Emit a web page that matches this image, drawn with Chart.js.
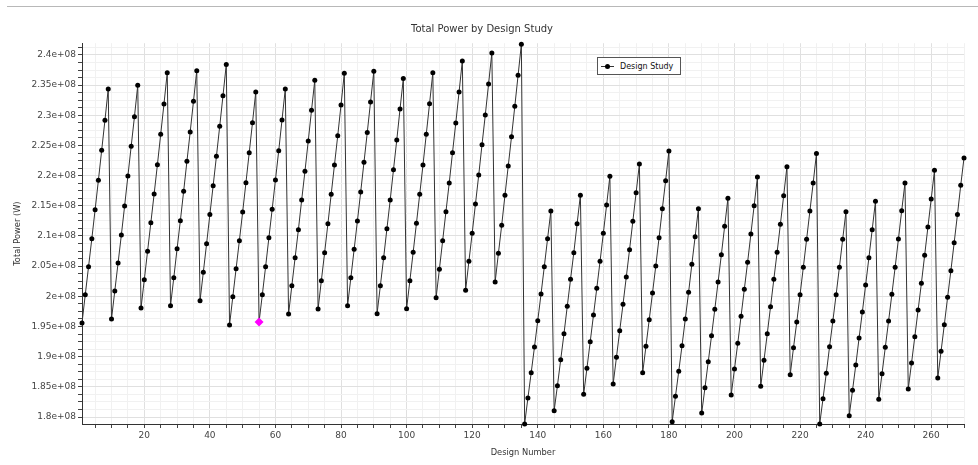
<!DOCTYPE html>
<html>
<head>
<meta charset="utf-8">
<title>Total Power by Design Study</title>
<script src="https://cdn.jsdelivr.net/npm/chart.js@4/dist/chart.umd.min.js"></script>
<style>
  body { margin: 0; background: #fff; }
  #wrap { position: relative; width: 978px; height: 465px; }
  #topline { position: absolute; left: 7px; right: 0; top: 6px; border-top: 1px solid #b8b8b8; }
  #legend {
    position: absolute; left: 597px; top: 57px; width: 82px; height: 16px;
    border: 1px solid #555; background: #fff; display: flex; align-items: center;
    font: 8px "DejaVu Sans", sans-serif; color: #111;
  }
  #legend svg { margin: 0 6px 0 3px; }
</style>
</head>
<body>
<div id="wrap">
  <canvas id="chart-power" width="978" height="465"></canvas>
  <div id="topline"></div>
  <div id="legend">
    <svg width="13" height="7"><line x1="0" y1="3.5" x2="13" y2="3.5" stroke="#333" stroke-width="1"/><circle cx="6.5" cy="3.5" r="2.5" fill="#000"/></svg>
    <span>Design Study</span>
  </div>
</div>
<script>
// values, 9 designs per row
const totalPower = [
  1.9558e8, 2.0028e8, 2.0492e8, 2.0956e8, 2.1436e8, 2.1923e8, 2.2420e8, 2.2917e8, 2.3436e8,
  1.9624e8, 2.0088e8, 2.0552e8, 2.1016e8, 2.1497e8, 2.1994e8, 2.2486e8, 2.2978e8, 2.3497e8,
  1.9807e8, 2.0276e8, 2.0746e8, 2.1221e8, 2.1696e8, 2.2182e8, 2.2685e8, 2.3188e8, 2.3707e8,
  1.9845e8, 2.0309e8, 2.0790e8, 2.1254e8, 2.1740e8, 2.2238e8, 2.2724e8, 2.3232e8, 2.3740e8,
  1.9928e8, 2.0398e8, 2.0873e8, 2.1354e8, 2.1834e8, 2.2320e8, 2.2818e8, 2.3326e8, 2.3840e8,
  1.9525e8, 1.9994e8, 2.0458e8, 2.0923e8, 2.1398e8, 2.1884e8, 2.2381e8, 2.2878e8, 2.3387e8,
  1.9574e8, 2.0028e8, 2.0492e8, 2.0972e8, 2.1442e8, 2.1928e8, 2.2414e8, 2.2923e8, 2.3436e8,
  1.9707e8, 2.0177e8, 2.0641e8, 2.1105e8, 2.1597e8, 2.2072e8, 2.2575e8, 2.3083e8, 2.3580e8,
  1.9790e8, 2.0260e8, 2.0724e8, 2.1204e8, 2.1691e8, 2.2177e8, 2.2663e8, 2.3171e8, 2.3696e8,
  1.9845e8, 2.0309e8, 2.0779e8, 2.1249e8, 2.1729e8, 2.2221e8, 2.2713e8, 2.3221e8, 2.3729e8,
  1.9713e8, 2.0177e8, 2.0641e8, 2.1121e8, 2.1597e8, 2.2099e8, 2.2591e8, 2.3105e8, 2.3608e8,
  1.9795e8, 2.0260e8, 2.0729e8, 2.1210e8, 2.1691e8, 2.2177e8, 2.2685e8, 2.3193e8, 2.3707e8,
  1.9978e8, 2.0447e8, 2.0923e8, 2.1403e8, 2.1878e8, 2.2381e8, 2.2873e8, 2.3387e8, 2.3901e8,
  2.0099e8, 2.0580e8, 2.1044e8, 2.1530e8, 2.2011e8, 2.2514e8, 2.3005e8, 2.3519e8, 2.4033e8,
  2.0237e8, 2.0713e8, 2.1177e8, 2.1674e8, 2.2160e8, 2.2646e8, 2.3149e8, 2.3663e8, 2.4177e8,
  1.7884e8, 1.8315e8, 1.8735e8, 1.9160e8, 1.9597e8, 2.0039e8, 2.0492e8, 2.0956e8, 2.1414e8,
  1.8105e8, 1.8519e8, 1.8950e8, 1.9381e8, 1.9834e8, 2.0282e8, 2.0724e8, 2.1204e8, 2.1674e8,
  1.8376e8, 1.8806e8, 1.9248e8, 1.9690e8, 2.0132e8, 2.0580e8, 2.1044e8, 2.1514e8, 2.1989e8,
  1.8547e8, 1.8989e8, 1.9431e8, 1.9867e8, 2.0320e8, 2.0773e8, 2.1243e8, 2.1718e8, 2.2193e8,
  1.8735e8, 1.9171e8, 1.9613e8, 2.0055e8, 2.0503e8, 2.0972e8, 2.1453e8, 2.1917e8, 2.2409e8,
  1.7922e8, 1.8342e8, 1.8757e8, 1.9182e8, 1.9624e8, 2.0066e8, 2.0530e8, 2.0989e8, 2.1453e8,
  1.8066e8, 1.8486e8, 1.8917e8, 1.9348e8, 1.9784e8, 2.0237e8, 2.0691e8, 2.1160e8, 2.1624e8,
  1.8364e8, 1.8795e8, 1.9221e8, 1.9668e8, 2.0116e8, 2.0563e8, 2.1033e8, 2.1503e8, 2.1978e8,
  1.8508e8, 1.8939e8, 1.9381e8, 1.9829e8, 2.0282e8, 2.0729e8, 2.1193e8, 2.1668e8, 2.2149e8,
  1.8702e8, 1.9149e8, 1.9574e8, 2.0028e8, 2.0481e8, 2.0945e8, 2.1414e8, 2.1878e8, 2.2365e8,
  1.7884e8, 1.8304e8, 1.8724e8, 1.9166e8, 1.9591e8, 2.0028e8, 2.0481e8, 2.0945e8, 2.1403e8,
  1.8022e8, 1.8442e8, 1.8862e8, 1.9309e8, 1.9740e8, 2.0188e8, 2.0641e8, 2.1105e8, 2.1575e8,
  1.8293e8, 1.8718e8, 1.9155e8, 1.9591e8, 2.0033e8, 2.0481e8, 2.0950e8, 2.1420e8, 2.1878e8,
  1.8464e8, 1.8895e8, 1.9331e8, 1.9773e8, 2.0215e8, 2.0679e8, 2.1149e8, 2.1613e8, 2.2088e8,
  1.8646e8, 1.9088e8, 1.9530e8, 1.9983e8, 2.0425e8, 2.0889e8, 2.1354e8, 2.1840e8, 2.2293e8
];

// design numbers 1..270
const designNumbers = totalPower.map((v, i) => i + 1);

// the one design shown as a magenta diamond
const highlightDesign = 55;

// labelled ticks
const xTickLabels = [20, 40, 60, 80, 100, 120, 140, 160, 180, 200, 220, 240, 260];
const yTickLabels = [1.8e8, 1.85e8, 1.9e8, 1.95e8, 2e8, 2.05e8, 2.1e8, 2.15e8, 2.2e8,
                     2.25e8, 2.3e8, 2.35e8, 2.4e8];

const xRange = [1, 270];
const yRange = [1.7884e8, 2.4195e8];
const xMinorStep = 5;
const yMinorStep = 1.25e6;

const font = "'DejaVu Sans', sans-serif";

// minor grid positions (multiples of the step inside the range)
const gridValues = (lo, hi, step) => {
  const out = [];
  for (let k = Math.ceil(lo / step); k * step <= hi; k++) out.push(k * step);
  return out;
};

const fmtPower = (v) => +(v / 1e8).toFixed(3) + "e+08";
const isYLabel = (v) => yTickLabels.some((t) => Math.abs(t - v) < 1);
const isXLabel = (v) => xTickLabels.some((t) => Math.abs(t - v) < 1e-6);

const ctx = document.querySelector("#chart-power");

const chartConfig = {
  type: "line",
  data: {
    datasets: [
      {
        label: "Design Study",
        data: designNumbers.map((d, i) => ({ x: d, y: totalPower[i] })),
        borderColor: "#333",
        borderWidth: 1,
        pointRadius: designNumbers.map((d) => (d === highlightDesign ? 4.5 : 2.5)),
        pointStyle: designNumbers.map((d) => (d === highlightDesign ? "rectRot" : "circle")),
        pointBackgroundColor: designNumbers.map((d) => (d === highlightDesign ? "#ff00ff" : "#000")),
        pointBorderColor: designNumbers.map((d) => (d === highlightDesign ? "#ff00ff" : "#000")),
        pointBorderWidth: 0,
        tension: 0,
        clip: false,
      },
    ],
  },
  options: {
    responsive: false,
    animation: false,
    layout: { padding: { left: 0, right: 14, top: 0, bottom: 0 } },
    plugins: {
      legend: { display: false },
      tooltip: { enabled: false },
      title: {
        display: true,
        text: "Total Power by Design Study",
        color: "#333",
        font: { family: font, size: 10, weight: "normal" },
        padding: { top: 23, bottom: 8.2 },
      },
    },
    scales: {
      x: {
        type: "linear",
        min: xRange[0],
        max: xRange[1],
        afterBuildTicks: (scale) => {
          scale.ticks = gridValues(xRange[0], xRange[1], xMinorStep).map((v) => ({ value: v }));
        },
        afterFit: (scale) => { scale.height = 41; },
        border: { color: "#333", width: 1 },
        grid: {
          color: (c) => (c.tick && isXLabel(c.tick.value) ? "#e0e0e0" : "#f1f1f1"),
          tickColor: "#444",
          tickLength: 4,
        },
        ticks: {
          autoSkip: false,
          maxRotation: 0,
          minRotation: 0,
          padding: 2,
          color: "#444",
          font: { family: font, size: 9 },
          callback: (v) => (isXLabel(v) ? String(v) : ""),
        },
        title: {
          display: true,
          text: "Design Number",
          color: "#333",
          font: { family: font, size: 8.3 },
          padding: { top: 0, bottom: 7 },
        },
      },
      y: {
        type: "linear",
        min: yRange[0],
        max: yRange[1],
        afterBuildTicks: (scale) => {
          scale.ticks = gridValues(yRange[0], yRange[1], yMinorStep).map((v) => ({ value: v }));
        },
        afterFit: (scale) => { scale.width = 82; },
        border: { color: "#333", width: 1 },
        grid: {
          color: (c) => (c.tick && isYLabel(c.tick.value) ? "#e0e0e0" : "#f1f1f1"),
          tickColor: "#444",
          tickLength: 4,
        },
        ticks: {
          autoSkip: false,
          padding: 2,
          color: "#444",
          font: { family: font, size: 9 },
          callback: (v) => (isYLabel(v) ? fmtPower(v) : ""),
        },
        title: {
          display: true,
          text: "Total Power (W)",
          color: "#333",
          font: { family: font, size: 8.3 },
          padding: { top: 12.5, bottom: 0 },
        },
      },
    },
  },
};

const chart = new Chart(ctx, chartConfig);
</script>
</body>
</html>
